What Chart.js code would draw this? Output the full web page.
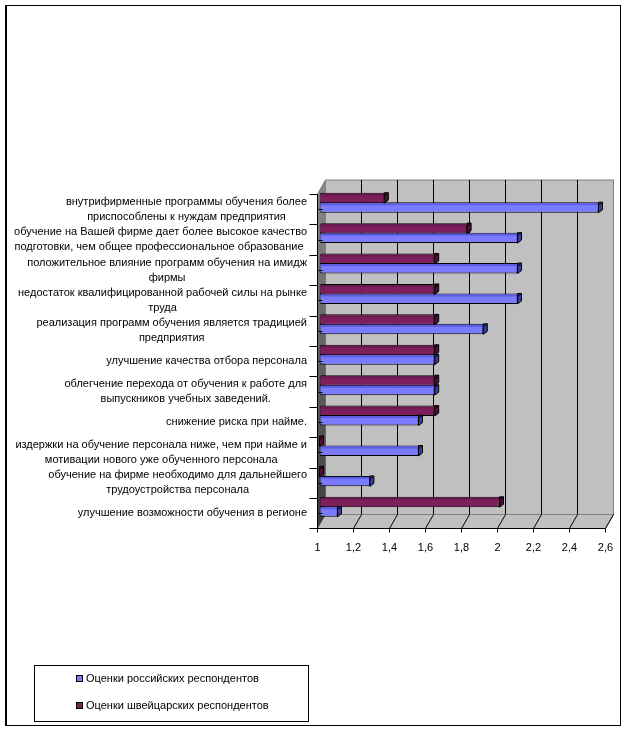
<!DOCTYPE html>
<html>
<head>
<meta charset="utf-8">
<title>Оценки респондентов</title>
<script src="https://cdn.jsdelivr.net/npm/chart.js@4"></script>
<style>
  html, body { margin: 0; padding: 0; background: #fff; }
  canvas { display: block; }
</style>
</head>
<body>
<canvas id="surveyChart" width="626" height="730"></canvas>
<script>
// categories run bottom-up, like the Excel original
const categories = [
  ["улучшение возможности обучения в регионе"],
  ["обучение на фирме необходимо для дальнейшего", "трудоустройства персонала"],
  ["издержки на обучение персонала ниже, чем при найме и", "мотивации нового уже обученного персонала"],
  ["снижение риска при найме."],
  ["облегчение перехода от обучения к работе для", "выпускников учебных заведений."],
  ["улучшение качества отбора персонала"],
  ["реализация программ обучения является традицией", "предприятия"],
  ["недостаток квалифицированной рабочей силы на рынке", "труда"],
  ["положительное влияние программ обучения на имидж", "фирмы"],
  ["обучение на Вашей фирме дает более высокое качество", "подготовки, чем общее профессиональное образование "],
  ["внутрифирменные программы обучения более", "приспособлены к нуждам предприятия"]
];
const russianScores = [1.1, 1.28, 1.55, 1.55, 1.64, 1.64, 1.91, 2.1, 2.1, 2.1, 2.55];
const swissScores = [2.0, 1.0, 1.0, 1.64, 1.64, 1.64, 1.64, 1.64, 1.64, 1.82, 1.36];
const xTickLabels = ["1", "1,2", "1,4", "1,6", "1,8", "2", "2,2", "2,4", "2,6"];
const seriesNames = ["Оценки российских респондентов", "Оценки швейцарских респондентов"];

const FONT = '11px "Liberation Sans", Arial, sans-serif';
const FRONT = { dx: -2, dy: 6.5 };   // front plane of the fake 3D box
const BACK = { dx: 6, dy: -7.5 };    // back wall
const CAP = { w: 4, h: 3 };          // bar end cap

// per dataset: swiss bars sit above the russian ones inside a band
const sideColors = ["#4c1038", "#3b3b99"];
const topColors = ["#661a4e", "#5c5ce0"];
const legendOrder = [1, 0];

function line(ctx, x1, y1, x2, y2) {
  ctx.beginPath();
  ctx.moveTo(x1, y1);
  ctx.lineTo(x2, y2);
  ctx.stroke();
}

function poly(ctx, pts) {
  ctx.beginPath();
  pts.forEach((p, i) => i ? ctx.lineTo(p[0], p[1]) : ctx.moveTo(p[0], p[1]));
  ctx.closePath();
}

const box3d = {
  id: "box3d",
  beforeDatasetsDraw(chart) {
    const ctx = chart.ctx;
    const a = chart.chartArea;
    const x = chart.scales.x;
    const bl = a.left + BACK.dx, br = a.right + BACK.dx, bt = a.top + BACK.dy, bb = a.bottom + BACK.dy;
    const fl = a.left + FRONT.dx, fr = a.right + FRONT.dx, ft = a.top + FRONT.dy, fb = a.bottom + FRONT.dy;
    ctx.save();
    ctx.lineWidth = 1;

    // back wall and floor
    ctx.fillStyle = "#c0c0c0";
    ctx.strokeStyle = "#808080";
    ctx.fillRect(bl, bt, br - bl, bb - bt);
    ctx.strokeRect(bl, bt, br - bl, bb - bt);
    poly(ctx, [[fl, fb], [fr, fb], [br, bb], [bl, bb]]);
    ctx.fill();
    ctx.stroke();

    // left wall
    const g = ctx.createLinearGradient(0, bt, 0, fb);
    g.addColorStop(0, "#8a8a8a");
    g.addColorStop(1, "#3c3c3c");
    ctx.fillStyle = g;
    poly(ctx, [[fl, ft], [bl, bt], [bl, bb], [fl, fb]]);
    ctx.fill();
    ctx.strokeStyle = "#808080";
    line(ctx, fl, ft, bl, bt);

    // grid on the wall and the floor
    ctx.strokeStyle = "#000";
    x.ticks.forEach((t, i) => {
      const px = x.getPixelForValue(t.value);
      if (i > 0 && i < x.ticks.length - 1) {
        line(ctx, px + BACK.dx, bt, px + BACK.dx, bb);
      }
      if (i > 0) {
        line(ctx, px + FRONT.dx, fb, px + BACK.dx, bb);
      }
    });
    ctx.restore();
  },
  afterDatasetsDraw(chart) {
    const ctx = chart.ctx;
    const a = chart.chartArea;
    const x = chart.scales.x;
    const y = chart.scales.y;
    const fl = a.left + FRONT.dx, fb = a.bottom + FRONT.dy;
    const band = Math.abs(y.getPixelForValue(1) - y.getPixelForValue(0));
    ctx.save();
    ctx.lineWidth = 1;

    // top face and end cap of each bar
    [1, 0].forEach(ds => {
      chart.getDatasetMeta(ds).data.forEach(bar => {
        const top = bar.y - bar.height / 2;
        const bot = bar.y + bar.height / 2;
        ctx.strokeStyle = "#000";
        if (bar.x > bar.base + 1) {
          ctx.fillStyle = topColors[ds];
          ctx.fillRect(bar.base + 1, top + 1, bar.x - bar.base - 1, CAP.h - 1);
        }
        ctx.fillStyle = sideColors[ds];
        poly(ctx, [[bar.x, top], [bar.x + CAP.w, top], [bar.x + CAP.w, bot - CAP.h], [bar.x, bot]]);
        ctx.fill();
        ctx.stroke();
        line(ctx, bar.x, top + CAP.h, bar.x + CAP.w, top);
      });
    });

    // front axes
    ctx.strokeStyle = "#000";
    line(ctx, fl, a.top + FRONT.dy, fl, fb);
    line(ctx, fl - 8, fb, a.right + FRONT.dx, fb);
    x.ticks.forEach(t => {
      const px = x.getPixelForValue(t.value) + FRONT.dx;
      line(ctx, px, fb, px, fb + 4);
    });
    categories.forEach((c, i) => {
      const cy = y.getPixelForValue(i) + FRONT.dy;
      const edge = Math.round(cy - band / 2) + 0.5;
      line(ctx, fl - 8, edge, fl, edge);
      // the little dash Excel leaves inside the blue bar
      line(ctx, fl + 1, Math.round(cy) + 0.5, fl + 5, Math.round(cy) + 0.5);
    });

    // category labels, lines centred inside a right-aligned block
    ctx.fillStyle = "#000";
    ctx.font = FONT;
    ctx.textAlign = "center";
    ctx.textBaseline = "middle";
    categories.forEach((lines, i) => {
      const cy = y.getPixelForValue(i) + FRONT.dy;
      const w = Math.max(...lines.map(l => ctx.measureText(l).width));
      lines.forEach((l, k) => {
        ctx.fillText(l, 307 - w / 2, cy + (k - (lines.length - 1) / 2) * 15);
      });
    });

    // legend box
    ctx.strokeRect(34.5, 665.5, 274, 56);
    ctx.textAlign = "left";
    legendOrder.forEach((ds, i) => {
      const d = chart.data.datasets[ds];
      const cy = 679 + i * 27;
      ctx.fillStyle = d.backgroundColor;
      ctx.fillRect(77, cy - 3, 6, 6);
      ctx.strokeRect(76.5, cy - 3.5, 6, 6);
      ctx.fillStyle = "#000";
      ctx.fillText(d.label, 86, cy);
    });

    // outer frame
    ctx.fillRect(5, 5, 616, 1);
    ctx.fillRect(5, 725, 616, 1);
    ctx.fillRect(5, 5, 2, 721);
    ctx.fillRect(620, 5, 1, 721);
    ctx.restore();
  }
};

new Chart(document.getElementById("surveyChart"), {
  type: "bar",
  plugins: [box3d],
  data: {
    labels: categories,
    datasets: [
      { label: seriesNames[1], data: swissScores, backgroundColor: "#7e1e5c" },
      { label: seriesNames[0], data: russianScores, backgroundColor: "#7b7bff" }
    ]
  },
  options: {
    indexAxis: "y",
    responsive: false,
    animation: false,
    layout: { padding: { left: 319.5, right: 18.5, top: 187.5, bottom: 0 } },
    datasets: {
      bar: {
        base: 1,
        categoryPercentage: 0.625,
        barPercentage: 1.1,
        borderColor: "#000",
        borderWidth: 1,
        borderSkipped: false,
        borderRadius: { topLeft: 2, bottomLeft: 2, topRight: 0, bottomRight: 0 }
      }
    },
    plugins: {
      legend: { display: false },
      tooltip: { enabled: false }
    },
    scales: {
      y: { display: false, reverse: true },
      x: {
        min: 1,
        max: 2.6,
        grid: { display: false, drawTicks: true, tickLength: 19 },
        border: { display: false },
        afterFit(scale) { scale.height = 208; },
        ticks: {
          stepSize: 0.2,
          autoSkip: false,
          maxRotation: 0,
          padding: 0,
          labelOffset: -2,
          color: "#000",
          font: { family: '"Liberation Sans", Arial, sans-serif', size: 11 },
          callback: (v, i) => xTickLabels[i]
        }
      }
    }
  }
});
</script>
</body>
</html>
